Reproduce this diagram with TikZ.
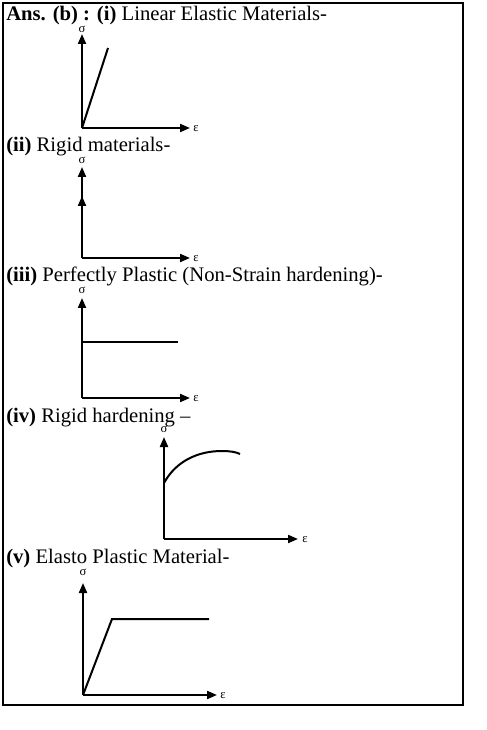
\documentclass[tikz,border=0pt]{standalone}
\usepackage{fontspec}
\setmainfont{Liberation Serif}
\usetikzlibrary{arrows.meta}
\tikzset{
    axisLine/.style={line width=1.5pt, -{Triangle[length=7.5pt,width=6pt]}},
    curveLine/.style={line width=1.5pt},
    symLabel/.style={inner sep=0pt, font=\fontsize{9.5}{10}\selectfont},
    headText/.style={anchor=base west, inner sep=0pt, font=\fontsize{15.5}{17}\selectfont},
}

\begin{document}
\begin{tikzpicture}[x=0.75pt, y=-0.75pt]
    \useasboundingbox (0,0) rectangle (486,730);
    \draw[line width=0.9pt] (3,3) rectangle (463,705);

    % (i) linear elastic
    \node[headText] (head1) at (6,21) {\textbf{Ans. (b) : (i)} Linear Elastic Materials-};
    \coordinate (o1) at (82,128);
    \coordinate (y1) at (82,34);
    \coordinate (x1) at (190,128);
    \coordinate (p1) at (108,48);
    \draw[axisLine] (o1) -- (y1);
    \draw[axisLine] (o1) -- (x1);
    \draw[curveLine] (o1) -- (p1);
    \node[symLabel] (sig1) at (82,29) {σ};
    \node[symLabel, anchor=west] (eps1) at (193,129) {ε};

    % (ii) rigid
    \node[headText] (head2) at (6,152) {\textbf{(ii)} Rigid materials-};
    \coordinate (o2) at (82,258);
    \coordinate (y2) at (82,167);
    \coordinate (m2) at (82,196);
    \coordinate (x2) at (190,258);
    \draw[axisLine] (o2) -- (y2);
    \draw[axisLine] (o2) -- (m2);
    \draw[axisLine] (o2) -- (x2);
    \node[symLabel] (sig2) at (82,160) {σ};
    \node[symLabel, anchor=west] (eps2) at (193,259) {ε};

    % (iii) perfectly plastic
    \node[headText] (head3) at (6,282) {\textbf{(iii)} Perfectly Plastic (Non-Strain hardening)-};
    \coordinate (o3) at (82,398);
    \coordinate (y3) at (82,298);
    \coordinate (x3) at (190,398);
    \coordinate (a3) at (82,342);
    \coordinate (b3) at (178,342);
    \draw[axisLine] (o3) -- (y3);
    \draw[axisLine] (o3) -- (x3);
    \draw[curveLine] (a3) -- (b3);
    \node[symLabel] (sig3) at (82,290) {σ};
    \node[symLabel, anchor=west] (eps3) at (193,399) {ε};

    % (iv) rigid hardening
    \node[headText] (head4) at (6,422) {\textbf{(iv)} Rigid hardening –};
    \coordinate (o4) at (164,539);
    \coordinate (y4) at (164,437);
    \coordinate (x4) at (298,539);
    \coordinate (a4) at (164,483);
    \coordinate (c4) at (222,451);
    \coordinate (b4) at (240,454);
    \draw[axisLine] (o4) -- (y4);
    \draw[axisLine] (o4) -- (x4);
    \draw[curveLine] (a4) .. controls (176,461) and (198,451) .. (c4)
        .. controls (230,451) and (236,452) .. (b4);
    \node[symLabel] (sig4) at (164,429) {σ};
    \node[symLabel, anchor=west] (eps4) at (302,540) {ε};

    % (v) elasto plastic
    \node[headText] (head5) at (6,563) {\textbf{(v)} Elasto Plastic Material-};
    \coordinate (o5) at (83,695);
    \coordinate (y5) at (83,583);
    \coordinate (x5) at (217,695);
    \coordinate (a5) at (112,619);
    \coordinate (b5) at (209,619);
    \draw[axisLine] (o5) -- (y5);
    \draw[axisLine] (o5) -- (x5);
    \draw[curveLine] (o5) -- (a5) -- (b5);
    \node[symLabel] (sig5) at (83,572) {σ};
    \node[symLabel, anchor=west] (eps5) at (220,696) {ε};
\end{tikzpicture}
\end{document}
